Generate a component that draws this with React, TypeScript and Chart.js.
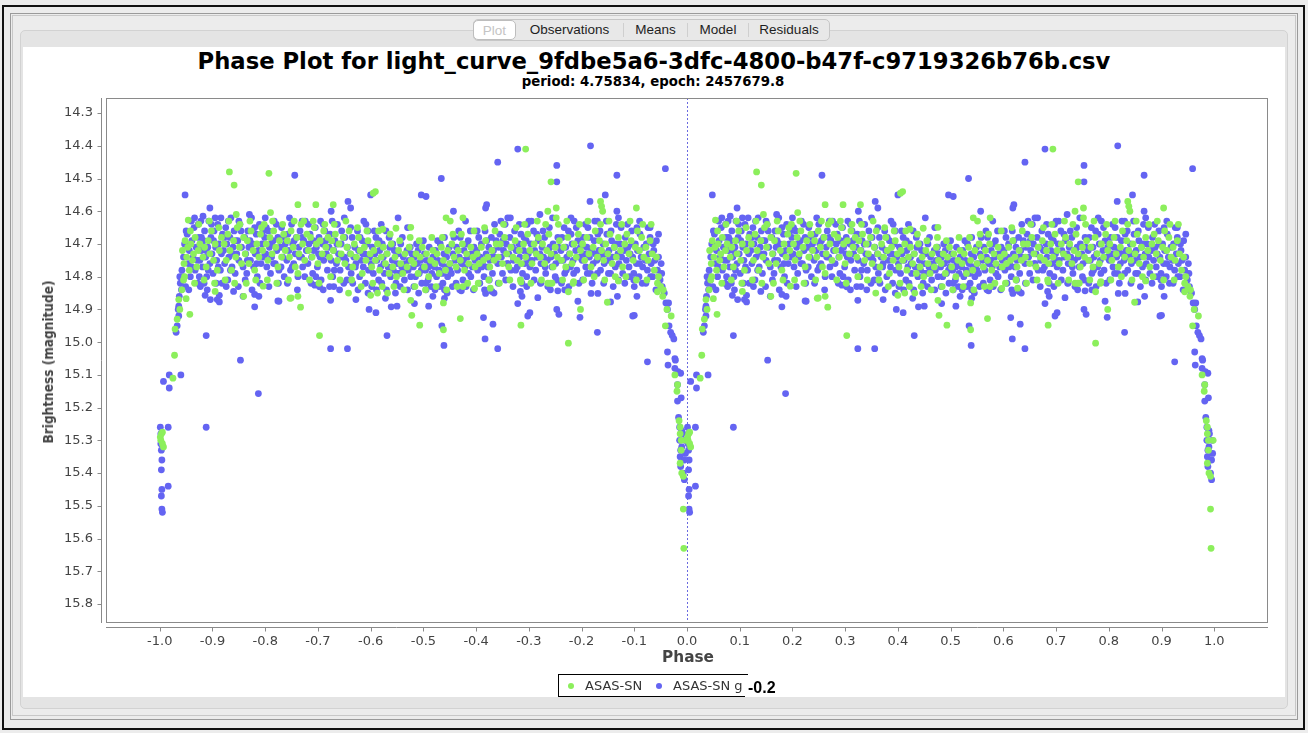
import React, { useEffect, useRef } from "react";
import { Chart, registerables } from "chart.js";

Chart.register(...registerables);

type P = [number, number]; // [phase 0..1, magnitude]

const seriesNames = ["ASAS-SN", "ASAS-SN g"];
const seriesColors = ["#8cef5c", "#6464f2"];
const xTickValues = [-1.0, -0.9, -0.8, -0.7, -0.6, -0.5, -0.4, -0.3, -0.2, -0.1, 0.0, 0.1, 0.2, 0.3, 0.4, 0.5, 0.6, 0.7, 0.8, 0.9, 1.0];
const yTickValues = [14.3, 14.4, 14.5, 14.6, 14.7, 14.8, 14.9, 15.0, 15.1, 15.2, 15.3, 15.4, 15.5, 15.6, 15.7, 15.8];
const phaseRange = [-1.102, 1.102];
const magRange = [14.254, 15.858];

// ---------- ASAS-SN g (blue) ----------
const gBand: P[] = [
  [0.042,14.78],[0.045,14.74],[0.047,14.70],[0.049,14.83],[0.052,14.67],[0.054,14.76],[0.056,14.72],[0.058,14.80],[0.061,14.69],[0.063,14.74],[0.065,14.65],[0.067,14.78],[0.069,14.71],[0.072,14.82],[0.074,14.68],[0.076,14.75],[0.078,14.63],[0.079,14.72],
  [0.081,14.77],[0.083,14.69],[0.085,14.66],[0.087,14.74],[0.089,14.80],[0.091,14.71],[0.093,14.63],[0.095,14.76],[0.097,14.68],[0.099,14.73],[0.101,14.79],[0.103,14.66],[0.106,14.71],[0.108,14.75],[0.110,14.64],[0.112,14.70],[0.115,14.78],[0.117,14.73],[0.119,14.67],
  [0.121,14.72],[0.123,14.76],[0.125,14.65],[0.127,14.70],[0.129,14.81],[0.131,14.74],[0.133,14.68],[0.135,14.62],[0.137,14.77],[0.139,14.71],[0.141,14.66],[0.143,14.79],[0.146,14.73],[0.148,14.69],[0.150,14.75],[0.152,14.64],[0.155,14.71],[0.158,14.77],
  [0.161,14.68],[0.163,14.73],[0.165,14.79],[0.167,14.66],[0.169,14.71],[0.172,14.75],[0.174,14.62],[0.176,14.70],[0.178,14.77],[0.181,14.73],[0.183,14.67],[0.185,14.80],[0.187,14.72],[0.189,14.64],[0.192,14.76],[0.194,14.70],[0.197,14.74],[0.199,14.68],
  [0.201,14.73],[0.203,14.77],[0.206,14.66],[0.208,14.71],[0.210,14.79],[0.212,14.74],[0.215,14.69],[0.217,14.63],[0.219,14.76],[0.222,14.72],[0.224,14.68],[0.226,14.78],[0.229,14.71],[0.231,14.65],[0.233,14.74],[0.236,14.80],[0.238,14.70],
  [0.241,14.75],[0.243,14.67],[0.245,14.72],[0.248,14.78],[0.250,14.64],[0.252,14.70],[0.254,14.76],[0.257,14.73],[0.259,14.68],[0.262,14.80],[0.264,14.71],[0.266,14.66],[0.269,14.74],[0.271,14.77],[0.273,14.69],[0.276,14.63],[0.278,14.72],
  [0.281,14.76],[0.283,14.70],[0.285,14.67],[0.288,14.74],[0.290,14.79],[0.292,14.72],[0.295,14.65],[0.297,14.71],[0.299,14.77],[0.302,14.68],[0.304,14.74],[0.306,14.81],[0.309,14.70],[0.311,14.75],[0.313,14.66],[0.316,14.73],[0.318,14.78],
  [0.321,14.71],[0.323,14.67],[0.325,14.75],[0.328,14.80],[0.330,14.72],[0.332,14.69],[0.335,14.76],[0.337,14.64],[0.339,14.73],[0.342,14.78],[0.344,14.70],[0.346,14.74],[0.349,14.82],[0.351,14.68],[0.353,14.75],[0.356,14.71],[0.358,14.77],
  [0.361,14.73],[0.363,14.79],[0.365,14.68],[0.368,14.74],[0.370,14.71],[0.372,14.76],[0.375,14.66],[0.377,14.72],[0.379,14.80],[0.382,14.75],[0.384,14.69],[0.386,14.77],[0.389,14.73],[0.391,14.64],[0.393,14.70],[0.396,14.78],[0.398,14.74],
  [0.401,14.76],[0.403,14.71],[0.405,14.79],[0.408,14.73],[0.410,14.68],[0.412,14.75],[0.415,14.81],[0.417,14.72],[0.419,14.77],[0.422,14.70],[0.424,14.74],[0.426,14.79],[0.429,14.66],[0.431,14.73],[0.433,14.77],[0.436,14.71],[0.438,14.80],
  [0.441,14.75],[0.443,14.78],[0.445,14.72],[0.448,14.82],[0.450,14.76],[0.452,14.73],[0.455,14.79],[0.457,14.70],[0.459,14.77],[0.462,14.74],[0.464,14.81],[0.466,14.76],[0.469,14.72],[0.471,14.78],[0.473,14.75],[0.476,14.80],[0.478,14.73],
  [0.481,14.77],[0.483,14.74],[0.485,14.80],[0.488,14.76],[0.490,14.72],[0.492,14.79],[0.495,14.75],[0.497,14.82],[0.499,14.77],[0.502,14.73],[0.504,14.78],[0.506,14.75],[0.509,14.81],[0.511,14.71],[0.513,14.76],[0.516,14.79],[0.518,14.74],
  [0.521,14.77],[0.523,14.72],[0.525,14.80],[0.528,14.75],[0.530,14.78],[0.532,14.70],[0.535,14.76],[0.537,14.82],[0.539,14.73],[0.542,14.77],[0.544,14.74],[0.546,14.80],[0.549,14.71],[0.551,14.76],[0.553,14.79],[0.556,14.73],[0.558,14.68],
  [0.561,14.75],[0.563,14.71],[0.565,14.78],[0.568,14.74],[0.570,14.68],[0.572,14.76],[0.575,14.81],[0.577,14.72],[0.579,14.77],[0.582,14.70],[0.584,14.74],[0.586,14.79],[0.589,14.66],[0.591,14.73],[0.593,14.77],[0.596,14.71],[0.598,14.75],
  [0.601,14.72],[0.603,14.78],[0.605,14.68],[0.608,14.74],[0.610,14.70],[0.612,14.76],[0.615,14.80],[0.617,14.66],[0.619,14.73],[0.622,14.77],[0.624,14.71],[0.626,14.75],[0.629,14.68],[0.631,14.79],[0.633,14.72],[0.636,14.74],[0.638,14.69],
  [0.641,14.76],[0.643,14.71],[0.645,14.67],[0.648,14.74],[0.650,14.79],[0.652,14.72],[0.655,14.64],[0.657,14.70],[0.659,14.76],[0.662,14.73],[0.664,14.68],[0.666,14.78],[0.669,14.71],[0.671,14.75],[0.673,14.66],[0.676,14.72],[0.678,14.77],
  [0.681,14.70],[0.683,14.74],[0.685,14.67],[0.688,14.79],[0.690,14.72],[0.692,14.76],[0.695,14.69],[0.697,14.64],[0.699,14.73],[0.702,14.77],[0.704,14.70],[0.706,14.75],[0.709,14.66],[0.711,14.72],[0.713,14.78],[0.716,14.74],[0.718,14.69],
  [0.721,14.73],[0.723,14.76],[0.725,14.71],[0.728,14.74],[0.730,14.68],[0.732,14.79],[0.735,14.75],[0.737,14.72],[0.739,14.65],[0.742,14.74],[0.744,14.77],[0.746,14.70],[0.749,14.73],[0.751,14.76],[0.753,14.81],[0.756,14.71],[0.758,14.75],
  [0.761,14.72],[0.763,14.68],[0.765,14.75],[0.768,14.79],[0.770,14.71],[0.772,14.74],[0.775,14.66],[0.777,14.73],[0.779,14.77],[0.782,14.70],[0.784,14.75],[0.786,14.63],[0.789,14.72],[0.791,14.78],[0.793,14.69],[0.796,14.74],[0.798,14.71],
  [0.801,14.75],[0.803,14.68],[0.805,14.73],[0.808,14.77],[0.810,14.71],[0.812,14.65],[0.815,14.74],[0.817,14.79],[0.819,14.72],[0.822,14.76],[0.824,14.69],[0.826,14.73],[0.829,14.75],[0.831,14.67],[0.833,14.72],[0.836,14.78],[0.838,14.74],
  [0.841,14.70],[0.843,14.76],[0.845,14.73],[0.848,14.67],[0.850,14.75],[0.852,14.72],[0.855,14.79],[0.857,14.69],[0.859,14.74],[0.862,14.71],[0.864,14.77],[0.866,14.64],[0.869,14.73],[0.871,14.76],[0.873,14.70],[0.876,14.74],[0.878,14.79],
  [0.881,14.72],[0.883,14.68],[0.885,14.75],[0.888,14.71],[0.890,14.77],[0.892,14.73],[0.895,14.66],[0.897,14.74],[0.899,14.79],[0.902,14.70],[0.904,14.76],[0.906,14.72],[0.909,14.80],[0.911,14.67],[0.913,14.74],[0.916,14.77],[0.918,14.71],
  [0.921,14.75],[0.923,14.70],[0.925,14.78],[0.928,14.73],[0.930,14.68],[0.932,14.76],[0.935,14.80],[0.937,14.72],[0.939,14.75],[0.942,14.69],[0.944,14.78],[0.946,14.74],[0.949,14.81],[0.951,14.76],[0.953,14.83],
];

const gBandWide: P[] = [
  [0.044,14.81],[0.050,14.66],[0.055,14.84],[0.060,14.77],[0.066,14.62],[0.071,14.75],[0.075,14.80],[0.079,14.68],
  [0.084,14.82],[0.088,14.72],[0.092,14.78],[0.098,14.64],[0.102,14.69],[0.107,14.82],[0.111,14.77],[0.116,14.62],
  [0.122,14.68],[0.126,14.83],[0.130,14.63],[0.134,14.78],[0.138,14.73],[0.144,14.69],[0.149,14.83],[0.154,14.66],
  [0.162,14.81],[0.166,14.75],[0.171,14.69],[0.175,14.84],[0.180,14.65],[0.184,14.76],[0.190,14.82],[0.196,14.66],
  [0.202,14.65],[0.207,14.83],[0.211,14.70],[0.216,14.76],[0.221,14.64],[0.225,14.82],[0.230,14.77],[0.235,14.68],
  [0.242,14.82],[0.246,14.62],[0.251,14.77],[0.255,14.69],[0.261,14.84],[0.265,14.74],[0.270,14.68],[0.275,14.80],
  [0.282,14.64],[0.287,14.82],[0.291,14.69],[0.296,14.80],[0.301,14.73],[0.305,14.63],[0.310,14.84],[0.315,14.69],
  [0.322,14.83],[0.327,14.63],[0.331,14.78],[0.336,14.70],[0.341,14.84],[0.345,14.66],[0.350,14.74],[0.355,14.81],
  [0.362,14.65],[0.366,14.82],[0.371,14.77],[0.376,14.84],[0.380,14.68],[0.385,14.73],[0.390,14.82],[0.395,14.66],
  [0.402,14.83],[0.407,14.66],[0.411,14.84],[0.416,14.69],[0.421,14.82],[0.425,14.76],[0.430,14.84],[0.435,14.68],
  [0.442,14.70],[0.447,14.85],[0.451,14.79],[0.456,14.83],[0.460,14.68],[0.465,14.78],[0.470,14.84],[0.475,14.71],
  [0.482,14.83],[0.487,14.70],[0.491,14.85],[0.496,14.78],[0.500,14.69],[0.505,14.84],[0.510,14.77],[0.515,14.83],
  [0.522,14.84],[0.527,14.69],[0.531,14.83],[0.536,14.79],[0.540,14.68],[0.545,14.85],[0.550,14.78],[0.555,14.83],
  [0.562,14.82],[0.567,14.66],[0.571,14.84],[0.576,14.75],[0.581,14.83],[0.585,14.69],[0.590,14.80],[0.595,14.84],
  [0.602,14.66],[0.607,14.82],[0.611,14.77],[0.616,14.84],[0.620,14.69],[0.625,14.81],[0.630,14.74],[0.635,14.64],
  [0.642,14.82],[0.647,14.63],[0.651,14.69],[0.656,14.81],[0.660,14.76],[0.665,14.62],[0.670,14.83],[0.675,14.78],
  [0.682,14.64],[0.687,14.82],[0.691,14.68],[0.696,14.80],[0.700,14.75],[0.705,14.63],[0.710,14.81],[0.715,14.67],
  [0.722,14.82],[0.727,14.66],[0.731,14.77],[0.736,14.83],[0.740,14.71],[0.745,14.62],[0.750,14.80],[0.755,14.68],
  [0.762,14.82],[0.767,14.65],[0.771,14.78],[0.776,14.83],[0.780,14.67],[0.785,14.79],[0.790,14.65],[0.795,14.82],
  [0.802,14.81],[0.807,14.64],[0.811,14.79],[0.816,14.68],[0.820,14.82],[0.825,14.63],[0.830,14.79],[0.835,14.66],
  [0.842,14.82],[0.847,14.63],[0.851,14.79],[0.856,14.66],[0.860,14.83],[0.865,14.70],[0.870,14.81],[0.875,14.65],
  [0.882,14.82],[0.887,14.64],[0.891,14.80],[0.896,14.70],[0.900,14.83],[0.905,14.65],[0.910,14.76],[0.915,14.82],
  [0.922,14.82],[0.926,14.65],[0.931,14.80],[0.936,14.70],[0.941,14.84],[0.946,14.67],[0.952,14.79],
];

const gEdges: P[] = [
  [0.077,14.83],[0.086,14.857],[0.090,14.84],[0.096,14.87],[0.109,14.87],[0.118,14.82],[0.140,14.845],[0.158,14.86],[0.180,14.854],[0.188,14.86],[0.224,14.874],[0.226,14.875],
  [0.294,14.826],[0.303,14.831],[0.324,14.872],[0.330,14.83],[0.372,14.87],[0.395,14.85],[0.428,14.866],[0.450,14.89],[0.505,14.82],[0.518,14.86],[0.540,14.84],[0.540,14.866],
  [0.569,14.84],[0.572,14.843],[0.618,14.851],[0.630,14.845],[0.634,14.85],[0.679,14.882],[0.684,14.845],[0.687,14.86],[0.696,14.83],[0.717,14.864],[0.723,14.819],[0.741,14.84],
  [0.755,14.843],[0.768,14.84],[0.793,14.875],[0.818,14.851],[0.831,14.851],[0.855,14.877],[0.868,14.86],[0.899,14.81],[0.905,14.86],
  [0.060,14.63],[0.105,14.62],[0.150,14.63],[0.200,14.62],[0.270,14.63],[0.310,14.64],[0.350,14.62],[0.420,14.64],[0.470,14.65],[0.580,14.63],[0.660,14.62],[0.700,14.63],
  [0.780,14.62],[0.830,14.63],[0.870,14.62],[0.910,14.63],[0.930,14.65],[0.082,14.615],[0.170,14.61],[0.073,14.64],[0.387,14.63],[0.452,14.62],
];

const gOutliers: P[] = [
  [0.048,14.55],[0.095,14.59],[0.256,14.49],[0.325,14.60],[0.357,14.57],[0.362,14.59],[0.400,14.55],[0.496,14.55],[0.505,14.555],[0.534,14.50],[0.557,14.60],[0.618,14.59],
  [0.620,14.58],[0.641,14.45],[0.679,14.41],[0.721,14.61],[0.753,14.46],[0.753,14.51],[0.817,14.40],[0.816,14.57],[0.845,14.55],[0.867,14.49],[0.867,14.60],[0.959,14.47],
  [0.088,14.98],[0.088,15.26],[0.153,15.055],[0.187,15.157],[0.324,15.02],[0.356,15.02],[0.431,14.98],[0.539,15.01],[0.617,14.99],[0.641,15.02],[0.830,14.97],[0.925,15.06],
  [0.535,14.95],[0.614,14.925],[0.632,14.945],[0.702,14.91],[0.698,14.92],[0.397,14.90],[0.410,14.91],[0.510,14.89],[0.753,14.90],[0.757,14.915],[0.797,14.924],[0.900,14.918],
  [0.897,14.92],[0.113,14.857],[0.113,14.877],[0.180,14.892],[0.439,14.892],[0.483,14.882],
];

const gDip: P[] = [
  [0.001,15.26],[0.002,15.28],[0.002,15.31],[0.003,15.33],[0.004,15.36],[0.003,15.39],[0.004,15.45],[0.003,15.47],[0.004,15.51],[0.005,15.52],[0.016,15.26],[0.016,15.44],
  [0.007,15.12],[0.018,15.10],[0.018,15.14],[0.031,14.97],[0.033,14.95],[0.036,14.92],[0.036,14.89],[0.037,14.86],[0.038,14.80],[0.041,14.84],[0.040,15.10],[0.035,14.90],
  [0.039,14.82],[0.043,14.80],
  [0.957,14.85],[0.960,14.88],[0.963,14.90],[0.965,14.88],[0.966,14.95],[0.969,14.97],[0.972,14.98],[0.975,14.99],[0.963,15.03],[0.977,15.05],[0.978,15.055],[0.964,15.07],
  [0.977,15.08],[0.983,15.09],[0.982,15.13],[0.982,15.18],[0.984,15.23],[0.986,15.26],[0.990,15.27],[0.986,15.30],[0.991,15.28],[0.988,15.33],[0.987,15.35],[0.988,15.38],
  [0.993,15.40],[0.995,15.42],[0.995,15.36],[0.990,15.32],[0.996,15.30],[0.997,15.34],[0.988,15.095],[0.989,15.17],
];

// ---------- ASAS-SN (green) ----------
const vBand: P[] = [
  [0.043,14.72],[0.046,14.76],[0.048,14.69],[0.051,14.74],[0.053,14.71],[0.056,14.78],[0.059,14.70],[0.062,14.75],[0.064,14.73],[0.067,14.68],[0.070,14.77],[0.073,14.72],[0.076,14.70],
  [0.082,14.74],[0.085,14.71],[0.088,14.77],[0.092,14.69],[0.095,14.73],[0.098,14.66],[0.102,14.75],[0.105,14.70],[0.109,14.78],[0.113,14.72],[0.117,14.68],
  [0.122,14.70],[0.126,14.75],[0.129,14.67],[0.133,14.72],[0.136,14.78],[0.140,14.69],[0.144,14.74],[0.147,14.65],[0.151,14.71],[0.155,14.76],[0.159,14.68],
  [0.162,14.73],[0.166,14.69],[0.169,14.76],[0.173,14.66],[0.177,14.72],[0.180,14.78],[0.184,14.70],[0.188,14.74],[0.191,14.67],[0.195,14.72],[0.198,14.64],
  [0.202,14.70],[0.205,14.75],[0.209,14.68],[0.213,14.73],[0.216,14.66],[0.220,14.71],[0.224,14.77],[0.227,14.69],[0.231,14.74],[0.235,14.67],[0.238,14.72],
  [0.242,14.69],[0.246,14.74],[0.249,14.66],[0.253,14.71],[0.257,14.77],[0.260,14.68],[0.264,14.73],[0.268,14.64],[0.271,14.70],[0.275,14.75],[0.279,14.67],
  [0.282,14.72],[0.286,14.68],[0.289,14.74],[0.293,14.65],[0.297,14.70],[0.300,14.76],[0.304,14.69],[0.308,14.73],[0.311,14.66],[0.315,14.71],[0.319,14.68],
  [0.322,14.74],[0.326,14.69],[0.329,14.72],[0.333,14.67],[0.337,14.75],[0.340,14.70],[0.344,14.73],[0.348,14.68],[0.351,14.76],[0.355,14.71],[0.359,14.66],
  [0.362,14.73],[0.366,14.77],[0.369,14.70],[0.373,14.74],[0.377,14.68],[0.380,14.72],[0.384,14.79],[0.388,14.71],[0.391,14.75],[0.395,14.69],[0.399,14.73],
  [0.402,14.77],[0.406,14.72],[0.409,14.75],[0.413,14.70],[0.417,14.78],[0.420,14.74],[0.424,14.71],[0.428,14.76],[0.431,14.73],[0.435,14.79],[0.439,14.70],
  [0.442,14.77],[0.446,14.74],[0.449,14.80],[0.453,14.72],[0.457,14.76],[0.461,14.79],[0.465,14.73],[0.469,14.77],[0.473,14.71],[0.477,14.75],
  [0.482,14.76],[0.486,14.73],[0.490,14.79],[0.494,14.74],[0.498,14.71],[0.502,14.77],[0.506,14.73],[0.510,14.80],[0.514,14.75],[0.518,14.72],
  [0.522,14.76],[0.526,14.73],[0.530,14.79],[0.534,14.71],[0.538,14.75],[0.542,14.78],[0.546,14.72],[0.550,14.76],[0.554,14.70],[0.558,14.74],
  [0.562,14.77],[0.566,14.72],[0.570,14.75],[0.574,14.70],[0.578,14.78],[0.582,14.73],[0.586,14.76],[0.590,14.71],[0.594,14.74],[0.598,14.77],
  [0.602,14.73],[0.606,14.76],[0.610,14.71],[0.614,14.75],[0.618,14.69],[0.622,14.74],[0.626,14.77],[0.630,14.72],[0.634,14.75],[0.638,14.70],
  [0.642,14.74],[0.646,14.70],[0.650,14.76],[0.654,14.68],[0.658,14.73],[0.662,14.77],[0.666,14.71],[0.670,14.74],[0.674,14.69],[0.678,14.75],
  [0.682,14.72],[0.686,14.76],[0.690,14.70],[0.694,14.74],[0.698,14.67],[0.702,14.72],[0.706,14.76],[0.710,14.70],[0.714,14.73],[0.718,14.68],
  [0.722,14.74],[0.726,14.70],[0.730,14.76],[0.734,14.72],[0.738,14.67],[0.742,14.73],[0.746,14.77],[0.750,14.71],[0.754,14.74],[0.758,14.69],
  [0.762,14.75],[0.766,14.71],[0.770,14.77],[0.774,14.68],[0.778,14.73],[0.782,14.76],[0.786,14.70],[0.790,14.74],[0.794,14.67],[0.798,14.72],
  [0.802,14.70],[0.806,14.75],[0.810,14.68],[0.814,14.73],[0.818,14.77],[0.822,14.71],[0.826,14.66],[0.830,14.74],[0.834,14.69],[0.838,14.72],
  [0.842,14.75],[0.846,14.70],[0.850,14.73],[0.854,14.67],[0.858,14.76],[0.862,14.71],[0.866,14.74],[0.870,14.68],[0.874,14.72],[0.878,14.77],
  [0.882,14.70],[0.886,14.67],[0.890,14.73],[0.894,14.69],[0.898,14.75],[0.902,14.71],[0.906,14.66],[0.910,14.72],[0.914,14.68],[0.918,14.74],
  [0.922,14.71],[0.926,14.75],[0.930,14.69],[0.934,14.73],[0.938,14.78],[0.942,14.74],[0.946,14.80],[0.950,14.83],[0.954,14.86],
];

const vBandWide: P[] = [
  [0.047,14.80],[0.058,14.66],[0.066,14.82],[0.074,14.64],
  [0.084,14.81],[0.094,14.63],[0.104,14.82],[0.112,14.65],
  [0.124,14.81],[0.131,14.63],[0.142,14.82],[0.152,14.64],
  [0.164,14.82],[0.171,14.63],[0.182,14.81],[0.193,14.65],
  [0.204,14.81],[0.214,14.63],[0.222,14.82],[0.233,14.64],
  [0.244,14.81],[0.255,14.63],[0.262,14.79],[0.273,14.63],
  [0.284,14.81],[0.291,14.63],[0.302,14.82],[0.313,14.64],
  [0.324,14.80],[0.331,14.64],[0.342,14.81],[0.353,14.63],
  [0.364,14.81],[0.375,14.65],[0.382,14.83],[0.393,14.66],
  [0.404,14.82],[0.415,14.66],[0.422,14.83],[0.437,14.67],
  [0.444,14.83],[0.455,14.69],[0.463,14.84],[0.475,14.68],
  [0.484,14.83],[0.492,14.69],[0.504,14.84],[0.516,14.68],
  [0.524,14.83],[0.536,14.68],[0.544,14.84],[0.556,14.67],
  [0.564,14.83],[0.572,14.67],[0.584,14.82],[0.596,14.66],
  [0.604,14.82],[0.616,14.65],[0.624,14.81],[0.636,14.66],
  [0.644,14.82],[0.652,14.64],[0.664,14.81],[0.676,14.65],
  [0.684,14.81],[0.692,14.64],[0.704,14.82],[0.716,14.63],
  [0.724,14.81],[0.732,14.64],[0.744,14.82],[0.756,14.64],
  [0.764,14.81],[0.772,14.63],[0.784,14.82],[0.796,14.64],
  [0.804,14.81],[0.812,14.63],[0.824,14.80],[0.836,14.64],
  [0.844,14.81],[0.852,14.63],[0.864,14.80],[0.876,14.64],
  [0.884,14.80],[0.892,14.63],[0.904,14.81],[0.916,14.64],
  [0.924,14.81],[0.932,14.64],[0.944,14.82],
];

const vOutliers: P[] = [
  [0.132,14.48],[0.141,14.52],[0.207,14.484],[0.262,14.58],[0.296,14.58],[0.329,14.58],[0.409,14.54],[0.405,14.545],[0.694,14.41],[0.742,14.51],[0.736,14.60],[0.752,14.59],
  [0.752,14.62],[0.543,14.62],[0.551,14.63],[0.575,14.62],[0.836,14.57],[0.838,14.585],[0.840,14.60],[0.904,14.59],[0.054,14.627],[0.145,14.61],[0.210,14.604],[0.423,14.655],
  [0.448,14.652],[0.476,14.649],
  [0.057,14.915],[0.050,14.867],[0.105,14.845],[0.159,14.86],[0.196,14.829],[0.247,14.866],[0.249,14.865],[0.262,14.86],[0.267,14.893],[0.303,14.98],[0.358,14.85],[0.400,14.857],
  [0.413,14.85],[0.432,14.85],[0.476,14.872],[0.478,14.918],[0.493,14.948],[0.538,14.88],[0.538,14.962],[0.570,14.928],[0.575,14.83],[0.597,14.836],[0.627,14.835],[0.685,14.816],
  [0.685,14.948],[0.736,14.82],[0.741,14.82],[0.775,14.846],[0.785,14.815],[0.798,14.90],[0.775,15.003],[0.849,14.878],[0.870,14.813],[0.944,14.846],
];

const vDip: P[] = [
  [0.001,15.29],[0.002,15.30],[0.003,15.28],[0.005,15.31],[0.007,15.32],[0.005,15.275],[0.025,15.11],[0.028,15.04],[0.029,14.96],[0.033,14.93],[0.036,14.87],[0.038,14.90],
  [0.042,14.84],[0.045,14.81],
  [0.955,14.84],[0.959,14.95],[0.962,14.90],[0.970,14.92],[0.977,15.10],[0.982,15.13],[0.981,15.15],[0.985,15.24],[0.987,15.26],[0.987,15.28],[0.989,15.30],[0.989,15.33],
  [0.987,15.37],[0.990,15.40],[0.993,15.41],[0.993,15.51],[0.994,15.63],[0.998,15.30],
];

const toPhased = (pts: P[]) =>
  pts.map(([p, m]) => ({ x: p - 1, y: m })).concat(pts.map(([p, m]) => ({ x: p, y: m })));

const framePlugin = {
  id: "jfreeFrame",
  beforeDatasetsDraw(chart: any) {
    const { ctx, chartArea, scales } = chart;
    const zx = Math.round(scales.x.getPixelForValue(0)) + 0.5;
    ctx.save();
    ctx.strokeStyle = "#6a6ae0";
    ctx.lineWidth = 1;
    ctx.setLineDash([2, 2]);
    ctx.beginPath();
    ctx.moveTo(zx, chartArea.top);
    ctx.lineTo(zx, chartArea.bottom);
    ctx.stroke();
    ctx.restore();
  },
  afterDraw(chart: any) {
    const { ctx, chartArea, scales } = chart;
    const { left, right, top, bottom } = chartArea;
    ctx.save();
    ctx.strokeStyle = "#8a8a8a";
    ctx.lineWidth = 1;
    ctx.strokeRect(Math.round(left) + 0.5, Math.round(top) + 0.5, Math.round(right - left) - 1, Math.round(bottom - top) - 1);
    const ax = Math.round(left) - 4.5;
    ctx.beginPath();
    ctx.moveTo(ax, Math.round(top));
    ctx.lineTo(ax, Math.round(bottom));
    for (const v of yTickValues) {
      const py = Math.round(scales.y.getPixelForValue(v)) + 0.5;
      ctx.moveTo(ax - 4, py);
      ctx.lineTo(ax, py);
    }
    const ay = Math.round(bottom) + 4.5;
    ctx.moveTo(Math.round(left), ay);
    ctx.lineTo(Math.round(right), ay);
    for (const v of xTickValues) {
      const px = Math.round(scales.x.getPixelForValue(v)) + 0.5;
      ctx.moveTo(px, ay);
      ctx.lineTo(px, ay + 4);
    }
    ctx.stroke();
    ctx.restore();
  },
};

function PhaseChart() {
  const ref = useRef<HTMLCanvasElement>(null);
  useEffect(() => {
    if (!ref.current) return;
    const tickFont = { family: "'DejaVu Sans', sans-serif", size: 13 };
    const chart = new Chart(ref.current, {
      type: "scatter",
      data: {
        datasets: [
          {
            label: seriesNames[0],
            data: toPhased([...vBand, ...vBandWide, ...vOutliers, ...vDip]),
            backgroundColor: seriesColors[0],
            borderWidth: 0,
            pointRadius: 3.4,
          },
          {
            label: seriesNames[1],
            data: toPhased([...gBand, ...gBandWide, ...gEdges, ...gOutliers, ...gDip]),
            backgroundColor: seriesColors[1],
            borderWidth: 0,
            pointRadius: 3.4,
          },
        ],
      },
      options: {
        animation: false,
        responsive: false,
        maintainAspectRatio: false,
        devicePixelRatio: 1,
        events: [],
        layout: { padding: { top: 8, right: 17, left: 0, bottom: 0 } },
        plugins: { legend: { display: false }, tooltip: { enabled: false }, title: { display: false } },
        scales: {
          x: {
            type: "linear",
            min: phaseRange[0],
            max: phaseRange[1],
            afterBuildTicks: (s: any) => { s.ticks = xTickValues.map((v) => ({ value: v })); },
            afterFit: (s: any) => { s.height = 47; s.paddingLeft = 0; s.paddingRight = 0; },
            grid: { display: false, drawTicks: false },
            border: { display: false },
            ticks: {
              padding: 11,
              font: tickFont,
              color: "#444",
              autoSkip: false,
              maxRotation: 0,
              callback: (v: any) => Number(v).toFixed(1),
            },
          },
          y: {
            type: "linear",
            reverse: true,
            min: magRange[0],
            max: magRange[1],
            afterBuildTicks: (s: any) => { s.ticks = yTickValues.map((v) => ({ value: v })); },
            afterFit: (s: any) => { s.width = 83; s.paddingTop = 0; s.paddingBottom = 0; },
            grid: { display: false, drawTicks: false },
            border: { display: false },
            ticks: {
              padding: 13,
              font: tickFont,
              color: "#444",
              autoSkip: false,
              callback: (v: any) => Number(v).toFixed(1),
            },
          },
        },
      },
      plugins: [framePlugin],
    } as any);
    return () => chart.destroy();
  }, []);
  return (
    <canvas
      ref={ref}
      width={1262}
      height={580}
      style={{ position: "absolute", left: 23, top: 90, width: 1262, height: 580 }}
    />
  );
}

const abs = (l: number, t: number, w: number, h: number): React.CSSProperties => ({
  position: "absolute", left: l, top: t, width: w, height: h, boxSizing: "border-box",
});

const tabs = [
  { name: "Plot", w: 44 },
  { name: "Observations", w: 107 },
  { name: "Means", w: 64 },
  { name: "Model", w: 61 },
  { name: "Residuals", w: 81 },
];

export default function App() {
  return (
    <div style={{ ...abs(0, 0, 1308, 733), background: "#ececec", overflow: "hidden", fontFamily: "'DejaVu Sans', sans-serif" }}>
      <div style={{ ...abs(2, 5, 1303, 725), border: "2px solid #111" }} />
      <div style={{ ...abs(10, 13, 1288, 707), border: "1px solid #9a9a9a" }} />
      <div style={{ ...abs(12, 15, 1284, 701), border: "1px solid #c8c8c8" }} />
      <div style={{ ...abs(20, 30, 1268, 679), background: "#e4e4e4", border: "1px solid #d2d2d2", borderRadius: 5 }} />
      <div style={{ ...abs(23, 47, 1262, 650), background: "#ffffff" }} />

      <div style={{ ...abs(473, 19, 357, 22), background: "#e8e8e8", border: "1px solid #c6c6c6", borderRadius: 5, display: "flex", alignItems: "center", fontFamily: "'Liberation Sans', Arial, sans-serif", fontSize: 13.5, color: "#1e1e1e" }}>
        {tabs.map((t, i) => (
          <div
            key={t.name}
            style={{
              width: i === 0 ? t.w - 1 : t.w,
              height: i === 0 ? 20 : 14,
              lineHeight: i === 0 ? "20px" : "14px",
              textAlign: "center",
              boxSizing: "border-box",
              background: i === 0 ? "#ffffff" : "transparent",
              border: i === 0 ? "1px solid #bdbdbd" : "none",
              borderRadius: i === 0 ? 5 : 0,
              color: i === 0 ? "#c4c4c4" : "#1e1e1e",
              borderLeft: i > 1 ? "1px solid #cfcfcf" : i === 0 ? "1px solid #bdbdbd" : "none",
              marginLeft: i === 0 ? -1 : 0,
            }}
          >
            {t.name}
          </div>
        ))}
      </div>

      <div style={{ position: "absolute", left: 0, top: 47, width: 1308, textAlign: "center", fontWeight: "bold", fontSize: 22.7, lineHeight: "28px", color: "#000", whiteSpace: "nowrap" }}>
        Phase Plot for light_curve_9fdbe5a6-3dfc-4800-b47f-c9719326b76b.csv
      </div>
      <div style={{ position: "absolute", left: 0, top: 74, width: 1306, textAlign: "center", fontWeight: "bold", fontSize: 13.3, lineHeight: "16px", color: "#000", whiteSpace: "nowrap" }}>
        period: 4.75834, epoch: 2457679.8
      </div>

      <PhaseChart />

      <div style={{ position: "absolute", left: 588, top: 647, width: 200, textAlign: "center", fontWeight: "bold", fontSize: 15.3, lineHeight: "20px", color: "#444" }}>
        Phase
      </div>
      <div style={{ position: "absolute", left: 48, top: 362, transform: "translate(-50%, -50%) rotate(-90deg)", whiteSpace: "nowrap", fontFamily: "'DejaVu Sans Condensed', 'DejaVu Sans', sans-serif", fontStretch: "condensed", fontWeight: "bold", fontSize: 13.5, lineHeight: "16px", color: "#444" }}>
        Brightness (magnitude)
      </div>

      <div style={{ ...abs(558, 674, 190, 23), borderTop: "1px solid #000", borderLeft: "1px solid #000", borderBottom: "1px solid #000", background: "#fff" }}>
        <div style={{ position: "absolute", left: 9, top: 8, width: 6, height: 6, borderRadius: 3, background: seriesColors[0] }} />
        <div style={{ position: "absolute", left: 26, top: 2, fontSize: 13, lineHeight: "17px", color: "#333", whiteSpace: "nowrap" }}>{seriesNames[0]}</div>
        <div style={{ position: "absolute", left: 97, top: 8, width: 6, height: 6, borderRadius: 3, background: seriesColors[1] }} />
        <div style={{ position: "absolute", left: 114, top: 2, fontSize: 13, lineHeight: "17px", color: "#333", whiteSpace: "nowrap" }}>{seriesNames[1]}</div>
      </div>
      <div style={{ ...abs(745, 679, 33, 18), background: "#fff", fontFamily: "'Liberation Sans', Arial, sans-serif", fontWeight: "bold", fontSize: 16, lineHeight: "18px", color: "#000", paddingLeft: 3, whiteSpace: "nowrap" }}>
        -0.2
      </div>
    </div>
  );
}
